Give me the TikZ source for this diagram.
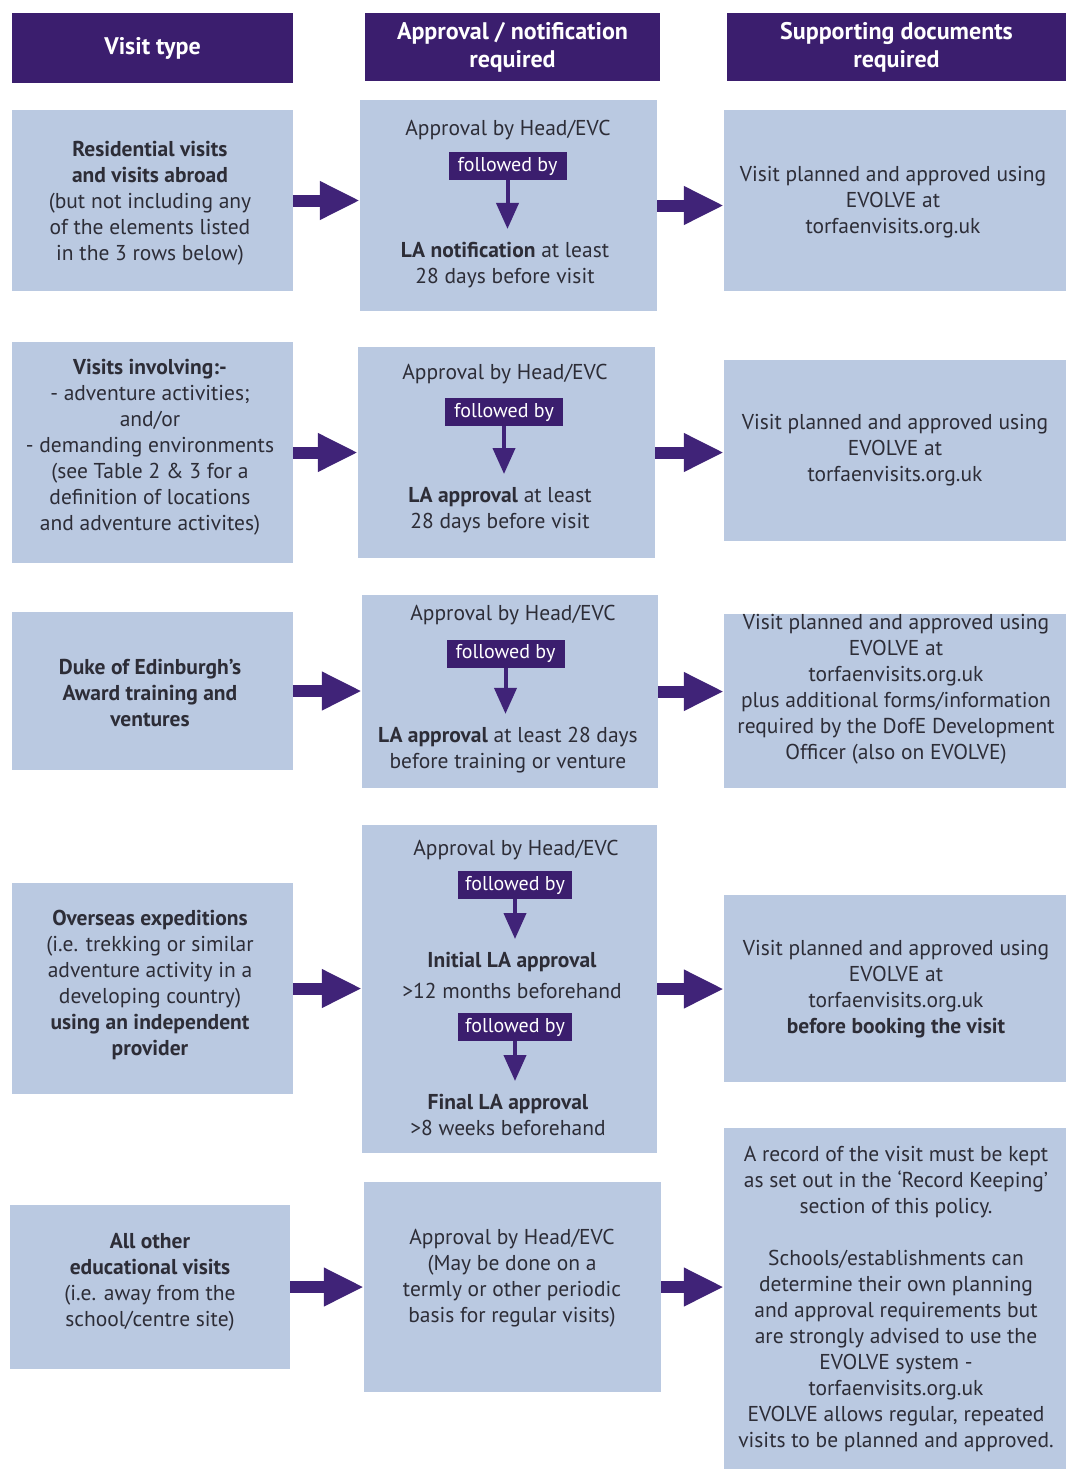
\documentclass[tikz,border=0pt]{standalone}
\usepackage{fontspec}
\setmainfont{PT Sans}
\usetikzlibrary{arrows.meta}
\definecolor{hdr}{RGB}{59,30,110}
\definecolor{boxfill}{RGB}{186,201,225}
\definecolor{txt}{RGB}{45,45,55}
\definecolor{arr}{RGB}{64,35,120}
\begin{document}
\begin{tikzpicture}[x=1pt,y=-1pt,
  hdrbox/.style={fill=hdr, text=white, font=\fontsize{24}{28}\selectfont\bfseries, align=center, inner sep=0pt},
  cellbox/.style={fill=boxfill, inner sep=0pt},
  celltext/.style={text=txt, font=\fontsize{21.5}{26}\selectfont, align=center, inner sep=0pt},
  fbbox/.style={fill=hdr, text=white, font=\fontsize{20}{22}\selectfont, inner sep=0pt, minimum width=118pt, minimum height=28pt},
  bigarrow/.style={draw=arr, line width=12pt, -{Triangle[width=36pt,length=40pt]}},
  fbarrow/.style={draw=arr, line width=4pt, -{Triangle[width=22pt,length=26pt]}, shorten >=13pt},
]
\fill[white] (0,0) rectangle (1068,1469);
\useasboundingbox (0,0) rectangle (1068,1469);

% headers
\node[hdrbox, minimum width=281pt, minimum height=70pt] (h1) at (152.5,48) {Visit type};
\node[hdrbox, minimum width=295pt, minimum height=68pt] (h2) at (512.5,47) {Approval / notification\\required};
\node[hdrbox, minimum width=339pt, minimum height=68pt] (h3) at (896.5,47) {Supporting documents\\required};

% row 1
\node[cellbox, minimum width=281pt, minimum height=181pt] (l1) at (152.5,200.5) {};
\node[cellbox, minimum width=297pt, minimum height=211pt] (m1) at (508.5,205.5) {};
\node[cellbox, minimum width=342pt, minimum height=181pt] (r1) at (895,200.5) {};
\node[celltext] (t1l) at (150,203) {\textbf{Residential visits}\\\textbf{and visits abroad}\\(but not including any\\of the elements listed\\in the 3 rows below)};
\node[celltext] (t1a) at (508,130) {Approval by Head/EVC};
\node[fbbox] (f1) at (507.5,166) {followed by};
\node[celltext] (t1b) at (505,265) {\textbf{LA notification} at least\\28 days before visit};
\node[celltext] (t1r) at (893,202) {Visit planned and approved using\\EVOLVE at\\torfaenvisits.org.uk};
\draw[fbarrow] (f1.south) -- (f1.south |- t1b.north) ;
\draw[bigarrow] (l1.east) -- (l1.east -| m1.west);
\draw[bigarrow] (m1.east) -- (m1.east -| r1.west);

% row 2
\node[cellbox, minimum width=281pt, minimum height=221pt] (l2) at (152.5,452.5) {};
\node[cellbox, minimum width=297pt, minimum height=211pt] (m2) at (506.5,452.5) {};
\node[cellbox, minimum width=342pt, minimum height=181pt] (r2) at (895,450.5) {};
\node[celltext] (t2l) at (150,447) {\textbf{Visits involving:-}\\- adventure activities;\\and/or\\- demanding environments\\(see Table 2 \& 3 for a\\definition of locations\\and adventure activites)};
\node[celltext] (t2a) at (505,374) {Approval by Head/EVC};
\node[fbbox] (f2) at (504,412) {followed by};
\node[celltext] (t2b) at (500,510) {\textbf{LA approval} at least\\28 days before visit};
\node[celltext] (t2r) at (895,450) {Visit planned and approved using\\EVOLVE at\\torfaenvisits.org.uk};
\draw[fbarrow] (f2.south) -- (f2.south |- t2b.north);
\draw[bigarrow] (l2.east) -- (l2.east -| m2.west);
\draw[bigarrow] (m2.east) -- (m2.east -| r2.west);

% row 3
\node[cellbox, minimum width=281pt, minimum height=158pt] (l3) at (152.5,691) {};
\node[cellbox, minimum width=296pt, minimum height=193pt] (m3) at (510,691.5) {};
\node[cellbox, minimum width=342pt, minimum height=174pt] (r3) at (895,701) {};
\node[celltext] (t3l) at (150,693) {\textbf{Duke of Edinburgh's}\\\textbf{Award training and}\\\textbf{ventures}};
\node[celltext] (t3a) at (513,615) {Approval by Head/EVC};
\node[fbbox] (f3) at (505.5,653.5) {followed by};
\node[celltext] (t3b) at (508,750) {\textbf{LA approval} at least 28 days\\before training or venture};
\node[celltext] (t3r) at (896,689) {Visit planned and approved using\\EVOLVE at\\torfaenvisits.org.uk\\plus additional forms/information\\required by the DofE Development\\Officer (also on EVOLVE)};
\draw[fbarrow] (f3.south) -- (f3.south |- t3b.north);
\draw[bigarrow] (l3.east) -- (l3.east -| m3.west);
\draw[bigarrow] (m3.east) -- (m3.east -| r3.west);

% row 4
\node[cellbox, minimum width=281pt, minimum height=211pt] (l4) at (152.5,988.5) {};
\node[cellbox, minimum width=295pt, minimum height=328pt] (m4) at (509.5,989) {};
\node[cellbox, minimum width=342pt, minimum height=187pt] (r4) at (895,988.5) {};
\node[celltext] (t4l) at (150,984.5) {\textbf{Overseas expeditions}\\(i.e. trekking or similar\\adventure activity in a\\developing country)\\\textbf{using an independent}\\\textbf{provider}};
\node[celltext] (t4a) at (516,850) {Approval by Head/EVC};
\node[fbbox, minimum width=114pt] (f4a) at (515,885) {followed by};
\node[celltext, font=\fontsize{21.5}{31}\selectfont] (t4i) at (512,975.5) {\textbf{Initial LA approval}\\>12 months beforehand};
\node[fbbox, minimum width=114pt] (f4b) at (515,1027) {followed by};
\node[celltext] (t4f) at (508,1115) {\textbf{Final LA approval}\\>8 weeks beforehand};
\node[celltext] (t4r) at (896,989) {Visit planned and approved using\\EVOLVE at\\torfaenvisits.org.uk\\\textbf{before booking the visit}};
\draw[fbarrow] (f4a.south) -- (f4a.south |- t4i.north);
\draw[fbarrow] (f4b.south) -- (f4b.south |- t4f.north);
\draw[bigarrow] (l4.east) -- (l4.east -| m4.west);
\draw[bigarrow] (m4.east) -- (m4.east -| r4.west);

% row 5
\node[cellbox, minimum width=280pt, minimum height=164pt] (l5) at (150,1287) {};
\node[cellbox, minimum width=297pt, minimum height=210pt] (m5) at (512.5,1287) {};
\node[cellbox, minimum width=342pt, minimum height=341pt] (r5) at (895,1298.5) {};
\node[celltext] (t5l) at (150,1282) {\textbf{All other}\\\textbf{educational visits}\\(i.e. away from the\\school/centre site)};
\node[celltext] (t5m) at (512,1278) {Approval by Head/EVC\\(May be done on a\\termly or other periodic\\basis for regular visits)};
\node[celltext] (t5r) at (896,1298.5) {A record of the visit must be kept\\as set out in the `Record Keeping'\\section of this policy.\\[26pt]Schools/establishments can\\determine their own planning\\and approval requirements but\\are strongly advised to use the\\EVOLVE system -\\torfaenvisits.org.uk\\EVOLVE allows regular, repeated\\visits to be planned and approved.};
\draw[bigarrow] (l5.east) -- (l5.east -| m5.west);
\draw[bigarrow] (m5.east) -- (m5.east -| r5.west);
\end{tikzpicture}
\end{document}
